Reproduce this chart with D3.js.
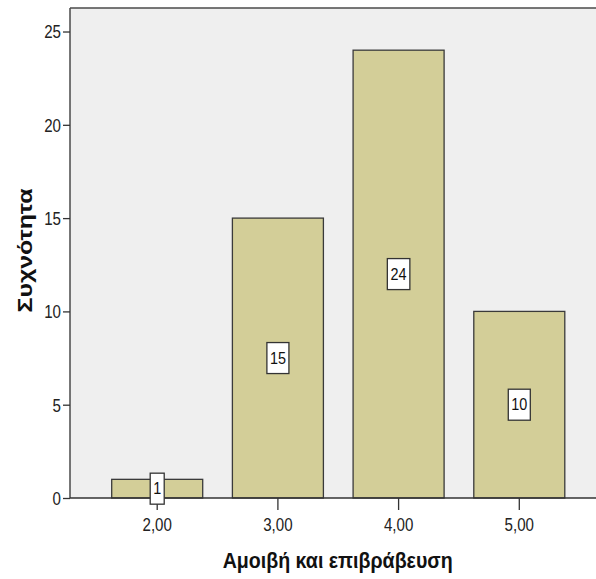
<!DOCTYPE html>
<html>
<head>
<meta charset="utf-8">
<script src="https://cdn.jsdelivr.net/npm/d3@7"></script>
<style>
  html, body { margin: 0; padding: 0; background: #ffffff; }
  svg { display: block; }
</style>
</head>
<body>
<svg id="chart" width="596" height="579"></svg>
<script>
// Frequency of scores for "Αμοιβή και επιβράβευση"
const categories = ["2,00", "3,00", "4,00", "5,00"];
const counts = [1, 15, 24, 10];
const yTicks = [0, 5, 10, 15, 20, 25];
const yTitle = "Συχνότητα";
const xTitle = "Αμοιβή και επιβράβευση";

const W = 596, H = 579;
const plotLeft = 70, plotTop = 8, plotBottom = 498;
const font = "'Liberation Sans', Arial, sans-serif";
const squeeze = 0.84; // condensed look for tick labels

const svg = d3.select("#chart");

const y = d3.scaleLinear().domain([0, 26.26]).range([plotBottom, plotTop]);
const x = d3.scaleBand()
  .domain(categories)
  .range([plotLeft, 606.5])
  .paddingInner(0.246)
  .paddingOuter(0.3455);

// plot panel
svg.append("rect")
  .attr("x", plotLeft).attr("y", plotTop)
  .attr("width", W - plotLeft).attr("height", plotBottom - plotTop)
  .attr("fill", "#efefef");

// bars
const data = categories.map((c, i) => ({ c, v: counts[i] }));
svg.append("g").selectAll("rect").data(data).join("rect")
  .attr("x", d => x(d.c))
  .attr("y", d => y(d.v))
  .attr("width", x.bandwidth())
  .attr("height", d => y(0) - y(d.v))
  .attr("fill", "#d3ce98")
  .attr("stroke", "#3a3a3a")
  .attr("stroke-width", 1.3);

// top frame line
svg.append("line")
  .attr("x1", plotLeft).attr("x2", W)
  .attr("y1", plotTop).attr("y2", plotTop)
  .attr("stroke", "#4a4a4a").attr("stroke-width", 1.5);

// y axis
const yAxis = svg.append("g")
  .attr("transform", `translate(${plotLeft},0)`)
  .call(d3.axisLeft(y).tickValues(yTicks).tickFormat(d3.format("d")).tickSize(7).tickSizeOuter(0));
yAxis.select(".domain").attr("d", `M0,${plotTop}V${plotBottom}`).attr("stroke", "#4a4a4a").attr("stroke-width", 1.5);
yAxis.selectAll(".tick line").attr("stroke", "#333").attr("stroke-width", 1.3);
yAxis.selectAll(".tick text")
  .attr("x", 0)
  .attr("dy", "0.36em")
  .attr("transform", `translate(-9,0) scale(${squeeze},1)`)
  .attr("fill", "#222")
  .style("font-family", font)
  .style("font-size", "18px");

// x axis
const xAxis = svg.append("g")
  .attr("transform", `translate(0,${plotBottom})`)
  .call(d3.axisBottom(x).tickSize(12).tickSizeOuter(0));
xAxis.select(".domain").attr("d", `M${plotLeft},0H${W}`).attr("stroke", "#333").attr("stroke-width", 1.3);
xAxis.selectAll(".tick line").attr("stroke", "#333").attr("stroke-width", 1.3);
xAxis.selectAll(".tick text")
  .attr("y", 0)
  .attr("dy", 0)
  .attr("transform", `translate(0,33) scale(${squeeze},1)`)
  .attr("fill", "#222")
  .style("font-family", font)
  .style("font-size", "18px");

// value labels in boxes at bar mid-height
const lab = svg.append("g").selectAll("g").data(data).join("g")
  .attr("transform", d => `translate(${x(d.c) + x.bandwidth() / 2},${y(d.v / 2)})`);
lab.append("text")
  .attr("text-anchor", "middle")
  .attr("dy", "0.36em")
  .attr("transform", "scale(0.9,1)")
  .attr("fill", "#111")
  .style("font-family", font)
  .style("font-size", "16px")
  .text(d => d.v);
lab.each(function () {
  const g = d3.select(this);
  const b = g.select("text").node().getBBox();
  const w = b.width * 0.9 + 6;
  g.insert("rect", "text")
    .attr("x", -w / 2).attr("y", -15.5)
    .attr("width", w).attr("height", 31)
    .attr("fill", "#ffffff")
    .attr("stroke", "#333")
    .attr("stroke-width", 1.3);
});

// axis titles
svg.append("text")
  .attr("transform", `translate(32,250.5) rotate(-90)`)
  .attr("text-anchor", "middle")
  .attr("fill", "#111")
  .attr("textLength", 124)
  .attr("lengthAdjust", "spacingAndGlyphs")
  .style("font-family", font)
  .style("font-weight", "bold")
  .style("font-size", "21px")
  .text(yTitle);

svg.append("text")
  .attr("x", 337.7).attr("y", 568)
  .attr("text-anchor", "middle")
  .attr("fill", "#111")
  .attr("textLength", 230)
  .attr("lengthAdjust", "spacingAndGlyphs")
  .style("font-family", font)
  .style("font-weight", "bold")
  .style("font-size", "22px")
  .text(xTitle);
</script>
</body>
</html>
